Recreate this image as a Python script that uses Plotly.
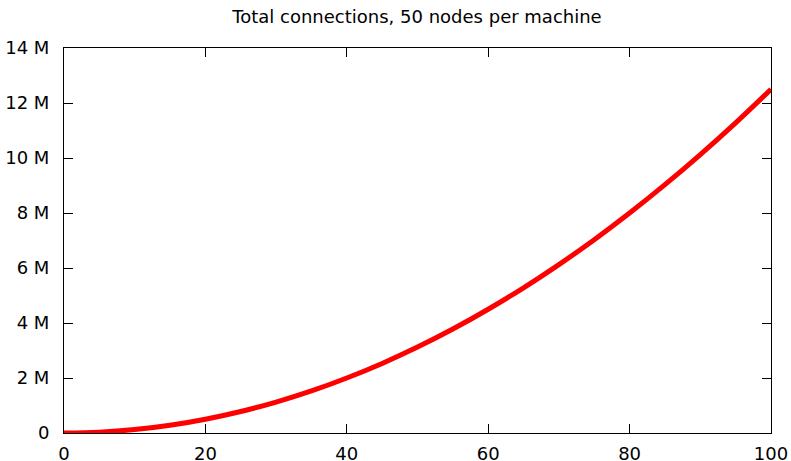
import plotly.graph_objects as go

# machines (x) and total connections in millions (y)
machines = [0, 5, 10, 15, 20, 25, 30, 35, 40, 45, 50, 55, 60, 65, 70, 75, 80, 85, 90, 95, 100]
connections_m = [0.0, 0.031, 0.125, 0.281, 0.5, 0.781, 1.124, 1.53, 2.0, 2.53, 3.124,
                 3.78, 4.5, 5.28, 6.124, 7.03, 8.0, 9.03, 10.124, 11.28, 12.5]
y_ticks = [0, 2, 4, 6, 8, 10, 12, 14]
y_tick_labels = ["0", "2 M", "4 M", "6 M", "8 M", "10 M", "12 M", "14 M"]
x_ticks = [0, 20, 40, 60, 80, 100]
title = "Total connections, 50 nodes per machine"

fig = go.Figure()
fig.add_trace(go.Scatter(
    x=machines, y=connections_m, mode="lines",
    line=dict(color="#ff0000", width=5, shape="spline"),
    showlegend=False, hoverinfo="skip",
))

axis_common = dict(
    showline=True, linecolor="black", linewidth=1, mirror="allticks",
    ticks="inside", ticklen=9, tickwidth=1, tickcolor="black",
    showgrid=False, zeroline=False, automargin=False,
    tickfont=dict(family="DejaVu Sans", size=18, color="black"),
)

W, H = 791, 461
fig.update_layout(
    width=W, height=H,
    paper_bgcolor="white", plot_bgcolor="white",
    margin=dict(l=64, r=20, t=48, b=28),
    title=dict(text=title, x=417 / W, xanchor="center",
               y=1 - 17 / H, yanchor="middle",
               font=dict(family="DejaVu Sans", size=18, color="black"),
               automargin=False),
    xaxis=dict(range=[0, 100], tickvals=x_ticks, ticklabelstandoff=4, **axis_common),
    yaxis=dict(range=[0, 14], tickvals=y_ticks, ticktext=y_tick_labels,
               ticklabelstandoff=10, **axis_common),
)

fig.write_html(
    "out.html",
    config={"displayModeBar": False},
    post_script="document.body.style.margin='0';document.body.style.overflow='hidden';",
)
